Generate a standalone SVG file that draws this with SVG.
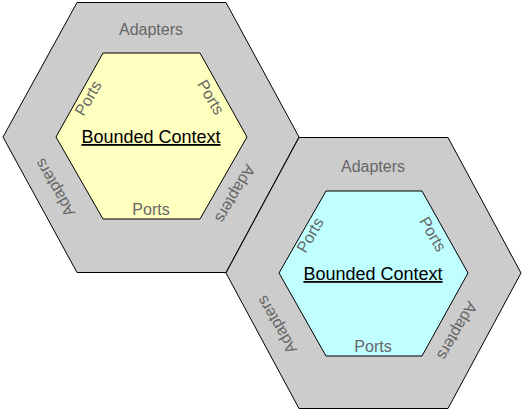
<svg xmlns="http://www.w3.org/2000/svg" width="525" height="413" viewBox="0 0 525 413">
<style>
.outer{fill:#cccccc;stroke:#000;stroke-width:1}
.inner{stroke:#000;stroke-width:1}
.lbl{font-family:"Liberation Sans",Arial,sans-serif;font-size:16px;fill:#666666;text-anchor:middle}
.title{font-family:"Liberation Sans",Arial,sans-serif;font-size:18px;fill:#000;text-anchor:middle;text-decoration:underline}
</style>
<rect width="525" height="413" fill="#ffffff"/>
<g id="context1">
<polygon class="outer" points="77,2.5 226,2.5 299,137 226,272.5 77,272.5 3,137"/>
<polygon class="inner" fill="#ffffc0" points="103,53 200,53 247,137 200,219 103,219 56,137"/>
<text class="lbl" x="151" y="35">Adapters</text>
<text class="lbl" transform="translate(88,98) rotate(-60)" x="0" y="5.7">Ports</text>
<text class="lbl" transform="translate(211,97) rotate(60)" x="0" y="5.7">Ports</text>
<text class="lbl" x="151" y="214.5">Ports</text>
<text class="lbl" transform="translate(56,187) rotate(-120)" x="0" y="4">Adapters</text>
<text class="lbl" transform="translate(234,193) rotate(120)" x="0" y="4">Adapters</text>
<text class="title" x="151" y="143">Bounded Context</text>
</g>
<g id="context2">
<polygon class="outer" points="299,137.5 448,137.5 521,273 448,408.5 299,408.5 226,273"/>
<polygon class="inner" fill="#c0ffff" points="326,191 422,191 468,273 422,356 326,356 279,273"/>
<text class="lbl" x="373" y="172">Adapters</text>
<text class="lbl" transform="translate(310,235) rotate(-60)" x="0" y="5.7">Ports</text>
<text class="lbl" transform="translate(433,234) rotate(60)" x="0" y="5.7">Ports</text>
<text class="lbl" x="373" y="351.5">Ports</text>
<text class="lbl" transform="translate(278,324) rotate(-120)" x="0" y="4">Adapters</text>
<text class="lbl" transform="translate(456,330) rotate(120)" x="0" y="4">Adapters</text>
<text class="title" x="373" y="280">Bounded Context</text>
</g>
<g id="connectors"></g>
</svg>
